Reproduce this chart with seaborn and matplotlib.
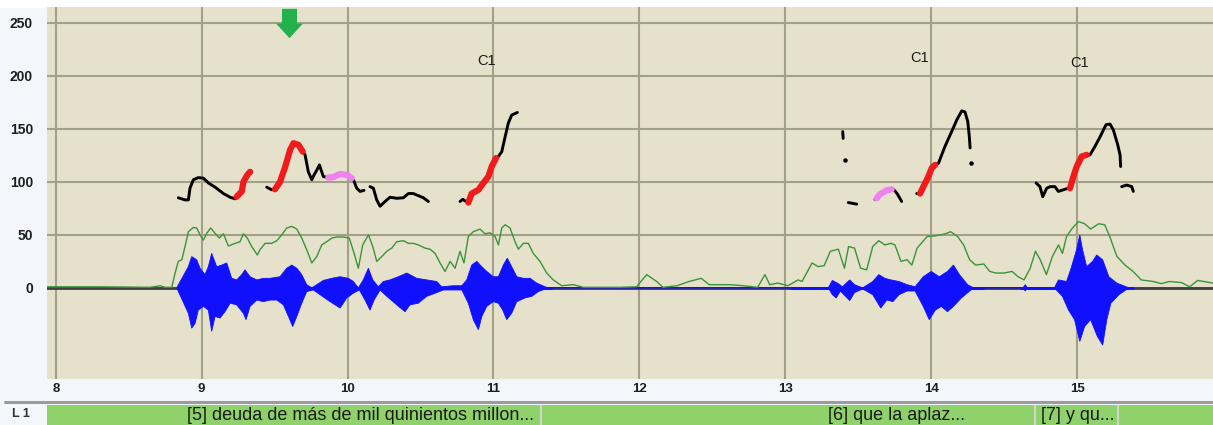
import numpy as np
import pandas as pd
import seaborn as sns
import matplotlib.pyplot as plt
from matplotlib.lines import Line2D
from matplotlib.patches import Rectangle
from matplotlib.path import Path

#########################
### Data (read off)   ###
#########################

# pitch contour (Hz), one id per continuous stretch; k = black, r = red, p = pink
pitch_t = [8.840, 8.886, 8.909, 8.920, 8.943, 8.977, 9.012, 9.046, 9.092, 9.149, 9.195, 9.229, 9.240, 9.275, 9.286, 9.313, 9.332, 9.343,
           9.446, 9.480, 9.503, 9.537, 9.572, 9.606, 9.629, 9.663, 9.693, 9.709, 9.720, 9.731, 9.755, 9.770, 9.789, 9.807, 9.823, 9.834,
           9.868, 9.903, 9.949, 9.995, 10.029, 10.040, 10.063, 10.086, 10.113,
           10.154, 10.177, 10.200, 10.223, 10.257, 10.291, 10.337, 10.383, 10.417, 10.451, 10.485, 10.520, 10.554,
           10.771, 10.790, 10.812, 10.828, 10.851, 10.897, 10.931, 10.965, 10.988, 11.018, 11.034, 11.057, 11.080, 11.102, 11.125, 11.164,
           13.394, 13.397,
           13.432, 13.490,
           13.615, 13.627, 13.650, 13.696, 13.730, 13.746, 13.769, 13.798,
           13.901, 13.924, 13.947, 13.981, 14.004, 14.027, 14.050, 14.095, 14.141, 14.176, 14.210, 14.232, 14.251, 14.262, 14.267,
           14.719, 14.746, 14.765, 14.792, 14.815, 14.849, 14.872, 14.906, 14.940, 14.952, 14.975, 14.998, 15.032, 15.066, 15.089,
           15.123, 15.158, 15.199, 15.226, 15.249, 15.279, 15.295, 15.299,
           15.306, 15.341, 15.375, 15.386]
pitch_hz = [85, 83, 83, 94, 102, 104, 103.5, 99, 95, 89, 85.5, 84, 86, 91, 100, 106.5, 109.5, 109,
            95, 92.5, 93, 100, 114, 130, 136.5, 135, 128.5, 125.5, 117.5, 109.5, 102, 106.5, 111, 116, 109.5, 105,
            104, 104.5, 107.5, 106.5, 103.5, 102, 94, 91, 92,
            95.5, 94, 83, 77, 81.5, 85.5, 84.5, 85, 89, 89, 87, 85, 81.5,
            81.5, 83.5, 81.5, 80.5, 89, 92.5, 99, 105, 114.5, 122.5, 124, 128.5, 142.5, 155.5, 163, 165.5,
            147.5, 141,
            80.5, 79,
            83.5, 84.5, 88.5, 92, 93, 92.5, 88.5, 81.5,
            89, 89, 95.5, 105, 113, 116, 117.5, 133.5, 147.5, 158.5, 167, 166, 157, 142.5, 132,
            99, 95.5, 86, 94, 95.5, 95.5, 91, 92.5, 94, 94, 105, 114.5, 124, 125.5, 125.5,
            133.5, 142.5, 154, 154.5, 149, 135, 125.5, 114.5,
            95.5, 97, 95.5, 91]
pitch_seg = [1] * 18 + [2] * 27 + [3] * 13 + [4] * 16 + [5] * 2 + [6] * 2 + [7] * 8 + [8] * 15 + [9] * 23 + [10] * 4
pitch_mark = list("kkkkkkkkkkkkrrrrrk"
                  + "kkrrrrrrrkkkkkkkkkpppppkkkk"
                  + "kkkkkkkkkkkkk"
                  + "kkkrrrrrrrkkkkkk"
                  + "kk" + "kk"
                  + "kppppkkk"
                  + "krrrrrkkkkkkkkk"
                  + "kkkkkkkkkrrrrrkkkkkkkkk"
                  + "kkkk")

dot_t = [13.41, 14.271]
dot_hz = [120.5, 118]

# intensity curve
int_t = [7.94, 8.30, 8.647, 8.715, 8.749, 8.795, 8.818, 8.84, 8.864, 8.886, 8.909, 8.943, 8.966, 8.989, 9.012, 9.035, 9.062, 9.092,
         9.121, 9.149, 9.183, 9.229, 9.263, 9.286, 9.313, 9.343, 9.382, 9.4, 9.435, 9.48, 9.515, 9.549, 9.583, 9.618, 9.652, 9.686,
         9.72, 9.755, 9.789, 9.823, 9.857, 9.892, 9.926, 9.971, 10.012, 10.045, 10.074, 10.104, 10.143, 10.173, 10.2, 10.234, 10.269,
         10.303, 10.337, 10.383, 10.417, 10.451, 10.485, 10.531, 10.565, 10.6, 10.634, 10.668, 10.703, 10.737, 10.771, 10.798, 10.828,
         10.862, 10.908, 10.942, 10.977, 11.011, 11.034, 11.057, 11.08, 11.114, 11.148, 11.171, 11.205, 11.239, 11.273, 11.319, 11.365,
         11.41, 11.468, 11.548, 11.616, 11.731, 11.87, 11.981, 12.05, 12.119, 12.161, 12.258, 12.341, 12.424, 12.479, 12.618, 12.714,
         12.811, 12.861, 12.894, 12.949, 13.019, 13.088, 13.115, 13.184, 13.226, 13.267, 13.309, 13.364, 13.406, 13.434, 13.475, 13.517,
         13.558, 13.6, 13.641, 13.683, 13.724, 13.752, 13.793, 13.835, 13.868, 13.904, 13.973, 14.029, 14.098, 14.134, 14.181, 14.223,
         14.264, 14.305, 14.361, 14.402, 14.444, 14.499, 14.555, 14.596, 14.637, 14.679, 14.715, 14.748, 14.79, 14.831, 14.873, 14.9,
         14.928, 14.969, 15.01, 15.052, 15.093, 15.149, 15.19, 15.224, 15.274, 15.329, 15.384, 15.44, 15.523, 15.578, 15.633, 15.716,
         15.772, 15.827, 15.932]
int_v = [1, 1, 0.5, 2, 0.5, 0.5, 14, 25, 26.5, 39, 53, 57, 56.5, 50, 45, 51.5, 56.5, 51.5,
         47, 51, 39.5, 42, 43.5, 51, 47, 39, 31, 36, 42, 42, 44.5, 50, 56.5, 58, 55.5, 47,
         36, 23.5, 29.5, 40.5, 43.5, 47, 48, 48, 47, 32.5, 18.5, 40.5, 50, 39, 25, 29.5, 34.5,
         37.5, 43.5, 44.5, 42, 42, 40.5, 37.5, 36.5, 32.5, 23.5, 15.5, 25, 18.5, 34.5, 23.5, 48.5,
         53, 55.5, 51, 52, 48.5, 40.5, 56.5, 59.5, 56.5, 43.5, 36.5, 42, 42, 32.5, 25, 14,
         7.5, 2, 3, 0.5, 0.5, 0.5, 1, 12.5, 6, 0.5, 2, 6, 9, 3, 3, 2,
         0.5, 12.5, 3, 4.5, 2, 7.5, 6, 23.5, 20, 21, 34.5, 36.5, 18.5, 39, 37.5, 18.5,
         17, 39, 44.5, 40.5, 42, 40.5, 25, 26.5, 21.5, 37.5, 48.5, 49, 51, 53, 48.5, 40.5,
         26.5, 21.5, 22.5, 15.5, 14, 14, 15.5, 10.5, 7.5, 18.5, 34.5, 26.5, 12.5, 29.5, 40.5, 32.5,
         48.5, 56.5, 62.5, 60.5, 55.5, 60.5, 59.5, 48.5, 29.5, 21.5, 15.5, 7.5, 6, 4, 6, 5,
         1, 7, 4.5]

# waveform envelope (upper / lower)
wave_up_t = [8.829, 8.909, 8.932, 8.966, 8.989, 9.023, 9.046, 9.069, 9.103, 9.138, 9.172, 9.206, 9.24, 9.275, 9.297, 9.332, 9.378,
             9.423, 9.469, 9.537, 9.583, 9.618, 9.652, 9.686, 9.72, 9.755, 9.789, 9.834, 9.892, 9.949, 10.006, 10.04, 10.074, 10.108,
             10.143, 10.173, 10.211, 10.245, 10.291, 10.348, 10.406, 10.474, 10.543, 10.611, 10.646, 10.725, 10.783, 10.817, 10.851,
             10.886, 10.92, 10.954, 10.999, 11.034, 11.068, 11.095, 11.125, 11.16, 11.205, 11.251, 11.297, 11.354, 11.376,
             13.295, 13.323, 13.364, 13.392, 13.442, 13.475, 13.531, 13.6, 13.641, 13.683, 13.724, 13.78, 13.835, 13.89, 13.946, 14.001,
             14.056, 14.112, 14.153, 14.194, 14.25, 14.291,
             14.63, 14.645, 14.66,
             14.845, 14.873, 14.928, 14.956, 14.997, 15.019, 15.038, 15.066, 15.107, 15.135, 15.176, 15.218, 15.273, 15.356]
wave_up_v = [0, 20, 29.5, 26.5, 18.5, 12.5, 20, 32.5, 20, 21.5, 23.5, 9, 7.5, 12.5, 17, 10.5, 7.5,
             9, 9, 10.5, 18.5, 21.5, 18.5, 12.5, 3, 0, 3, 7, 9, 10.5, 9, 6, 0, 7.5,
             18.5, 7.5, 1, 6, 7.5, 10.5, 14, 9, 7.5, 6, 1, 2, 2, 7.5, 21.5,
             25, 20, 15.5, 10.5, 10.5, 21.5, 28, 20, 10.5, 9, 9, 4.5, 1, 0,
             0, 7, 4, 1, 7.5, 3, 0, 6, 12.5, 9, 7.5, 6, 3, 1, 10.5, 15.5,
             10.5, 15.5, 21.5, 12.5, 3, 0,
             0, 3, 0,
             0, 7.5, 6, 17, 36, 50, 36, 20, 25, 31, 26.5, 10.5, 4.5, 0]
wave_lo_t = [8.829, 8.909, 8.932, 8.955, 8.977, 9.012, 9.046, 9.069, 9.092, 9.126, 9.16, 9.195, 9.24, 9.286, 9.304, 9.332, 9.378,
             9.423, 9.469, 9.515, 9.56, 9.595, 9.624, 9.652, 9.686, 9.72, 9.766, 9.812, 9.88, 9.949, 9.995, 10.04, 10.081, 10.12,
             10.154, 10.182, 10.223, 10.269, 10.337, 10.394, 10.428, 10.485, 10.543, 10.611, 10.657, 10.783, 10.828, 10.862, 10.897,
             10.92, 10.954, 10.999, 11.034, 11.064, 11.091, 11.125, 11.16, 11.217, 11.263, 11.308, 11.376,
             13.295, 13.323, 13.35, 13.378, 13.442, 13.475, 13.531, 13.6, 13.655, 13.697, 13.738, 13.78, 13.835, 13.89, 13.946, 13.987,
             14.029, 14.07, 14.112, 14.153, 14.208, 14.264, 14.291,
             14.63, 14.645, 14.66,
             14.845, 14.9, 14.942, 14.983, 15.019, 15.052, 15.093, 15.14, 15.176, 15.204, 15.232, 15.287, 15.356]
wave_lo_v = [0, -24, -38, -33.5, -21, -17.5, -21, -41, -27, -28.5, -22.5, -14.5, -16, -24, -30, -17.5, -11.5,
             -13, -11.5, -11.5, -16, -27, -36.5, -27, -14.5, -3.5, -2, -6.5, -13, -19, -9.5, -5, -2, -11.5,
             -21, -11.5, -2, -8, -16, -22.5, -16, -14.5, -8, -4.5, -2, -2, -14.5, -30, -39.5,
             -27, -17.5, -13, -14.5, -21, -30, -24, -13, -9.5, -8, -3.5, 0,
             0, -6.5, -9.5, -3, -12, -4.5, -1, -6.5, -19, -11.5, -13, -6.5, -3, -3, -17.5, -30,
             -21, -17.5, -22.5, -17.5, -9.5, -3, 0,
             0, -3, 0,
             0, -8, -21, -30, -50.5, -36.5, -30, -46, -54, -30, -14.5, -6.5, 0]
voiced_start = [8.83, 13.03, 14.61]
voiced_end = [11.40, 14.36, 15.39]

# labels
c1_t = [10.951, 13.924, 15.016]
c1_hz = [214, 216.5, 212]
arrow_t = 9.601
arrow_hz = 250.3

tier_labels = ["[5] deuda de más de mil quinientos millon...", "[6] que la aplaz...", "[7] y qu..."]
tier_centers = [10.088, 13.766, 15.003]
tier_bounds = [11.326, 14.712, 15.281]

x_ticks = list(range(8, 16))
y_ticks = [0, 50, 100, 150, 200, 250]

#####################
### Plot          ###
#####################

sns.set_style("white")
plt.rcParams['font.family'] = ['Liberation Sans', 'DejaVu Sans']

W, H = 1213, 425
fig = plt.figure(figsize=(W / 100, H / 100), dpi=100, facecolor='#f3f6fb')
fig.add_artist(Rectangle((0, 1 - 7 / H), 1, 7 / H, transform=fig.transFigure, color='white', zorder=0))
ax = fig.add_axes([47 / W, 46 / H, (W - 47) / W, 372 / H])
ax.set_facecolor('#e5e1cb')
ax.set_xlim(7.94, 15.932)
ax.set_ylim(-86, 265)

narrow = ['Liberation Sans Narrow', 'Liberation Sans', 'DejaVu Sans']
ax.set_xticks(x_ticks, labels=[str(v) for v in x_ticks], fontweight='bold', family=narrow, fontsize=9.5, color='#1e1e1e')
ax.set_yticks(y_ticks, labels=[str(v) for v in y_ticks], fontweight='bold', family=narrow, fontsize=10, color='#1e1e1e')
ax.tick_params(axis='both', length=0)
ax.tick_params(axis='x', pad=3)
ax.tick_params(axis='y', pad=10)
ax.grid(True, color='#a3a08a', lw=1.5)
ax.set_axisbelow(True)
for s in ax.spines.values():
    s.set_visible(False)

# zero line and waveform
ax.axhline(0, color='#3e3e3e', lw=2, zorder=2)
ax.fill(np.r_[wave_up_t, wave_lo_t[::-1]], np.r_[wave_up_v, wave_lo_v[::-1]], color='#1010ff', lw=0.6, zorder=3)
ax.hlines([0] * len(voiced_start), voiced_start, voiced_end, color='#1010ff', lw=2, zorder=3)

# intensity
sns.lineplot(x=int_t, y=int_v, color='#3a943a', lw=1, sort=False, ax=ax, zorder=4)

# pitch
df = pd.DataFrame({'t': pitch_t, 'hz': pitch_hz, 'seg': pitch_seg, 'mark': pitch_mark})
sns.lineplot(data=df, x='t', y='hz', units='seg', estimator=None, sort=False,
             color='black', lw=2.1, ax=ax, zorder=5, legend=False)
sns.lineplot(data=df[df['mark'] == 'r'], x='t', y='hz', units='seg', estimator=None, sort=False,
             color='#f21a1a', lw=4.5, ax=ax, zorder=6, legend=False)
sns.lineplot(data=df[df['mark'] == 'p'], x='t', y='hz', units='seg', estimator=None, sort=False,
             color='#ee82ee', lw=4.5, ax=ax, zorder=6, legend=False)
ax.scatter(dot_t, dot_hz, s=5, color='black', zorder=6)
ax.set_xlabel('')
ax.set_ylabel('')

for t, hz in zip(c1_t, c1_hz):
    ax.text(t, hz, 'C1', ha='center', va='center', fontsize=10.5, color='#1a1a1a', zorder=7)

# green arrow
arrow = Path([(-7.5, 14.65), (7.5, 14.65), (7.5, 0), (13.5, 0), (0, -14.65), (-13.5, 0), (-7.5, 0), (-7.5, 14.65)],
             [Path.MOVETO] + [Path.LINETO] * 6 + [Path.CLOSEPOLY])
ax.scatter([arrow_t], [arrow_hz], marker=arrow, s=21.1 ** 2, color='#22b14c', lw=0, zorder=8)

# tier
ax2 = fig.add_axes([47 / W, 0, (W - 47) / W, 20 / H])
ax2.set_facecolor('#8fd16a')
ax2.set_xlim(ax.get_xlim())
ax2.set_ylim(0, 1)
ax2.set_xticks([])
ax2.set_yticks([])
for s in ax2.spines.values():
    s.set_visible(False)
for lab, c in zip(tier_labels, tier_centers):
    ax2.text(c, 0.45, lab, ha='center', va='center', fontsize=13, color='#1a1a1a')
ax2.vlines(tier_bounds, 0, 1, color='#d2d6cc', lw=1.5)

fig.text(21 / W, 1 - 414 / H, 'L 1', ha='center', va='center', fontsize=9, fontweight='bold', color='#333333')
fig.add_artist(Line2D([5 / W, 1], [1 - 402 / H] * 2, color='#9c9c9c', lw=2.2))

fig.savefig('out.png', dpi=100, facecolor=fig.get_facecolor())
